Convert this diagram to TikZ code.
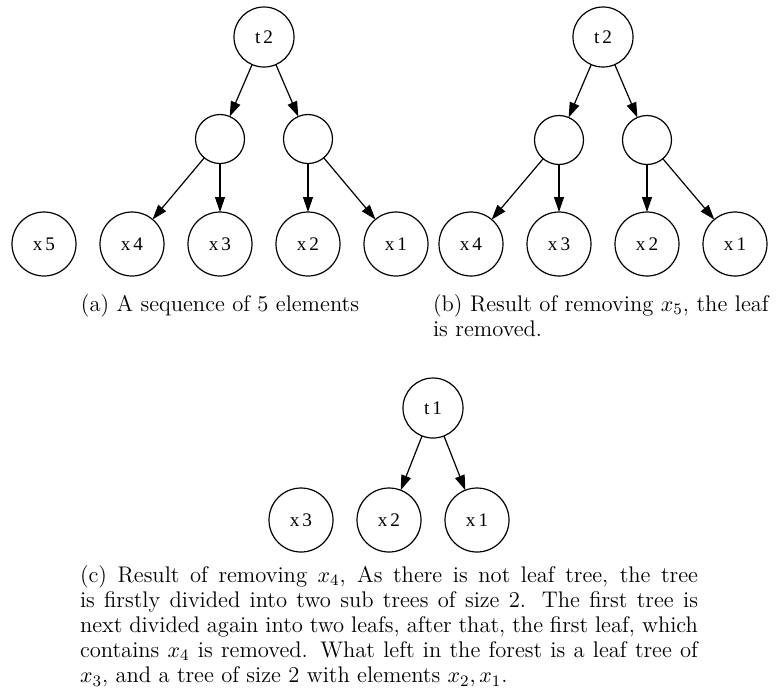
\documentclass[tikz,border=0pt]{standalone}
\usepackage{fontspec}
\usetikzlibrary{arrows.meta}
\newfontfamily\gvfont{Liberation Serif}
\begin{document}
\begin{tikzpicture}[x=0.5pt,y=-0.5pt,
  every node/.style={inner sep=0pt,outer sep=0pt},
  gvnode/.style={draw,circle,line width=0.6pt,font=\gvfont\fontsize{9.6}{11}\selectfont},
  leafnode/.style={gvnode,minimum size=32pt},
  topnode/.style={gvnode,minimum size=30pt},
  midnode/.style={gvnode,minimum size=24.5pt},
  arc/.style={line width=0.6pt,-{Triangle[length=7.5pt,width=5pt]}},
  captext/.style={font=\fontsize{11.3}{12.6}\selectfont}]
\useasboundingbox (0,0) rectangle (777,693);
% panel (a)
\node[topnode] (at) at (264,37) {t\kern1.5pt 2};
\node[midnode] (ai1) at (220,139) {};
\node[midnode] (ai2) at (308,139) {};
\node[leafnode] (a5) at (44,244) {x\kern1.5pt 5};
\node[leafnode] (a4) at (132,244) {x\kern1.5pt 4};
\node[leafnode] (a3) at (220,244) {x\kern1.5pt 3};
\node[leafnode] (a2) at (308,244) {x\kern1.5pt 2};
\node[leafnode] (a1) at (396,244) {x\kern1.5pt 1};
\draw[arc] (at) -- (ai1);
\draw[arc] (at) -- (ai2);
\draw[arc] (ai1) -- (a4);
\draw[arc] (ai1) -- (a3);
\draw[arc] (ai2) -- (a2);
\draw[arc] (ai2) -- (a1);
\node[captext,anchor=base] (capa) at (220,311) {(a) A sequence of 5 elements};
% panel (b)
\node[topnode] (bt) at (603,37) {t\kern1.5pt 2};
\node[midnode] (bi1) at (559,140) {};
\node[midnode] (bi2) at (647,140) {};
\node[leafnode] (b4) at (471,244) {x\kern1.5pt 4};
\node[leafnode] (b3) at (559,244) {x\kern1.5pt 3};
\node[leafnode] (b2) at (647,244) {x\kern1.5pt 2};
\node[leafnode] (b1) at (735,244) {x\kern1.5pt 1};
\draw[arc] (bt) -- (bi1);
\draw[arc] (bt) -- (bi2);
\draw[arc] (bi1) -- (b4);
\draw[arc] (bi1) -- (b3);
\draw[arc] (bi2) -- (b2);
\draw[arc] (bi2) -- (b1);
\node[captext,anchor=base west,text width=172pt,align=left] (capb) at (433,311)
  {(b) Result of removing $x_5$, the leaf\\ is removed.};
% panel (c)
\node[topnode] (ct) at (433,408) {t\kern1.5pt 1};
\node[leafnode] (c3) at (301,520) {x\kern1.5pt 3};
\node[leafnode] (c2) at (389,520) {x\kern1.5pt 2};
\node[leafnode] (c1) at (477,520) {x\kern1.5pt 1};
\draw[arc] (ct) -- (c2);
\draw[arc] (ct) -- (c1);
\node[captext,anchor=base west,text width=309pt,align=justify] (capc) at (80,582)
  {(c) Result of removing $x_4$, As there is not leaf tree, the tree\linebreak
   is firstly divided into two sub trees of size 2. The first tree is\linebreak
   next divided again into two leafs, after that, the first leaf, which\linebreak
   contains $x_4$ is removed. What left in the forest is a leaf tree of\linebreak
   $x_3$, and a tree of size 2 with elements $x_2, x_1$.};
\end{tikzpicture}
\end{document}
